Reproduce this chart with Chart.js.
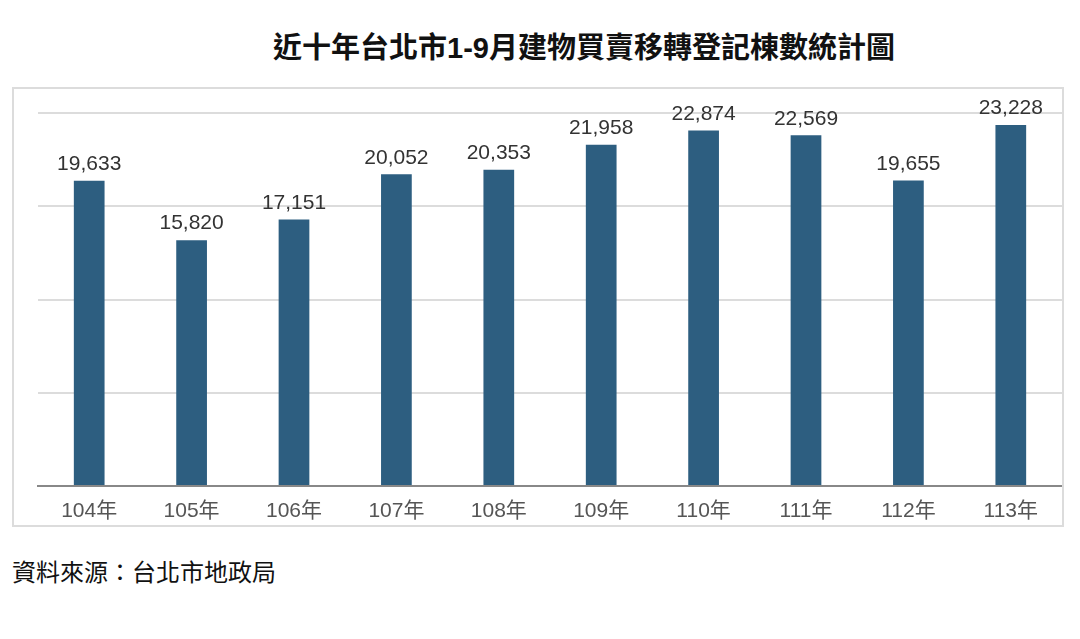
<!DOCTYPE html>
<html>
<head>
<meta charset="utf-8">
<script src="https://cdn.jsdelivr.net/npm/chart.js@4/dist/chart.umd.min.js"></script>
<style>
  body { margin: 0; background: #fff; width: 1080px; height: 639px; position: relative; overflow: hidden; }
  #title {
    position: absolute; left: 0; width: 1168px; top: 24px; text-align: center;
    font: bold 29px "Liberation Sans", "Noto Sans CJK TC", sans-serif; color: #111;
  }
  #box {
    position: absolute; left: 12px; top: 87px; width: 1048px; height: 436px;
    border: 2px solid #dcdcdc;
  }
  #source {
    position: absolute; left: 12px; top: 553px;
    font: 24px "Noto Sans CJK TC", sans-serif; color: #111;
  }
</style>
</head>
<body>
<div id="title">近十年台北市1-9月建物買賣移轉登記棟數統計圖</div>
<div id="box"><canvas id="chart" width="1048" height="436"></canvas></div>
<div id="source">資料來源：台北市地政局</div>
<script>
const years = ["104年", "105年", "106年", "107年", "108年", "109年", "110年", "111年", "112年", "113年"];
const counts = [19633, 15820, 17151, 20052, 20353, 21958, 22874, 22569, 19655, 23228];
const yTicks = [0, 6000, 12000, 18000, 24000];

const valueLabels = {
    id: "valueLabels",
    afterDatasetsDraw(chart) {
        const ctx = chart.ctx;
        const meta = chart.getDatasetMeta(0);
        ctx.save();
        ctx.font = '21px "Liberation Sans", Arial, sans-serif';
        ctx.fillStyle = "#333";
        ctx.textAlign = "center";
        ctx.textBaseline = "bottom";
        meta.data.forEach((bar, i) => {
            ctx.fillText(counts[i].toLocaleString("en-US"), bar.x, bar.y - 6);
        });
        ctx.restore();
    },
};

new Chart(document.getElementById("chart"), {
    type: "bar",
    data: {
        labels: years,
        datasets: [
            {
                data: counts,
                backgroundColor: "#2d5e80",
                barPercentage: 0.3,
                categoryPercentage: 1,
            },
        ],
    },
    options: {
        responsive: false,
        animation: false,
        layout: { padding: { top: 24, left: 0, right: 0, bottom: 0 } },
        plugins: { legend: { display: false }, tooltip: { enabled: false } },
        scales: {
            x: {
                grid: { display: false },
                border: { color: "#888", width: 2 },
                ticks: {
                    color: "#555",
                    font: { size: 21, family: '"Liberation Sans", "Noto Sans CJK TC", sans-serif' },
                    padding: 5,
                },
                afterFit: (s) => { s.height = 39; },
            },
            y: {
                min: 0,
                max: 24000,
                afterBuildTicks: (s) => { s.ticks = yTicks.map((v) => ({ value: v })); },
                ticks: { display: false },
                border: { display: false },
                grid: { color: "#dcdcdc", lineWidth: 2, drawTicks: false },
                afterFit: (s) => { s.width = 24; },
            },
        },
    },
    plugins: [valueLabels],
});
</script>
</body>
</html>
